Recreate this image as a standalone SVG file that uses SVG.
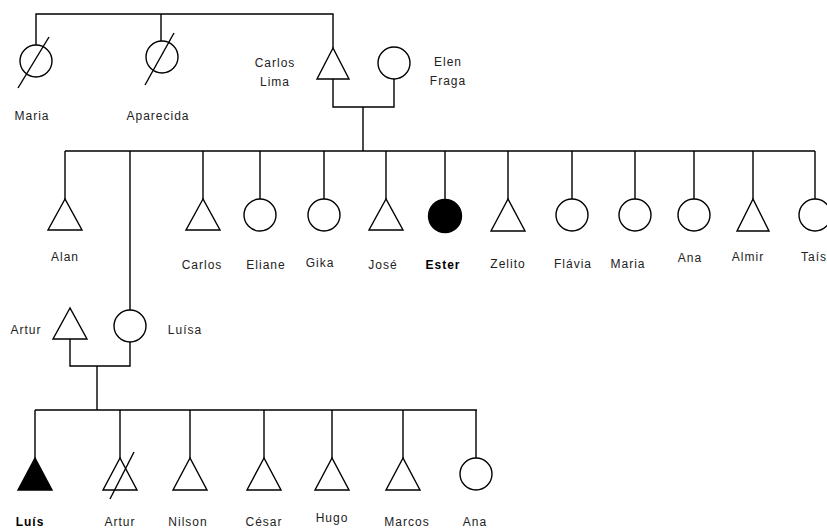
<svg xmlns="http://www.w3.org/2000/svg" width="827" height="530" viewBox="0 0 827 530">
<style>
.l{fill:none;stroke:#000;stroke-width:1.4}
.s{fill:#fff;stroke:#000;stroke-width:1.4}
.f{fill:#000;stroke:#000;stroke-width:1.4}
text{font-family:"Liberation Sans",Arial,sans-serif;font-size:12px;fill:#222;text-anchor:middle;letter-spacing:1px}
.b{font-weight:bold;fill:#000}
</style>
<rect width="827" height="530" fill="#fff"/>
<g id="connectors">
<path class="l" d="M36 45V14H333V48M161 41V14"/>
<path class="l" d="M333 79V107H394V79M363 107V151M65 151H815"/>
<path class="l" d="M65 151V199M203 151V199M260 151V199M324 151V199M386 151V199M445 151V199M508 151V199M572 151V199M635 151V199M694 151V199M753 151V199M815 151V199M130 151V310"/>
<path class="l" d="M70 339V366H130V342M97 366V410M35 410H477"/>
<path class="l" d="M35 410V458M120 410V458M190 410V458M264 410V458M332 410V458M403 410V458M476 410V458"/>
</g>
<g id="maria1"><circle class="s" cx="36" cy="61" r="16"/><line class="l" x1="18" y1="88" x2="49" y2="37"/><text x="32" y="120">Maria</text></g>
<g id="aparecida"><circle class="s" cx="162" cy="57" r="16"/><line class="l" x1="145" y1="85" x2="174" y2="33"/><text x="158" y="120">Aparecida</text></g>
<g id="carloslima"><polygon class="s" points="333,48 317,79 349,79"/><text x="275" y="67">Carlos</text><text x="275" y="86">Lima</text></g>
<g id="elen"><circle class="s" cx="394" cy="63" r="16"/><text x="448" y="66">Elen</text><text x="448" y="85">Fraga</text></g>
<g id="alan"><polygon class="s" points="65,199 48,230 82,230"/><text x="65" y="261">Alan</text></g>
<g id="carlos"><polygon class="s" points="203,199 186,230 220,230"/><text x="202" y="269">Carlos</text></g>
<g id="eliane"><circle class="s" cx="260" cy="215" r="16"/><text x="266" y="269">Eliane</text></g>
<g id="gika"><circle class="s" cx="324" cy="215" r="16"/><text x="320" y="267">Gika</text></g>
<g id="jose"><polygon class="s" points="386,199 369,230 403,230"/><text x="383" y="269">José</text></g>
<g id="ester"><circle class="f" cx="445" cy="216" r="16.5"/><text class="b" x="443" y="269">Ester</text></g>
<g id="zelito"><polygon class="s" points="508,199 491,231 525,231"/><text x="508" y="268">Zelito</text></g>
<g id="flavia"><circle class="s" cx="572" cy="215" r="16"/><text x="573" y="268">Flávia</text></g>
<g id="maria2"><circle class="s" cx="635" cy="215" r="16"/><text x="628" y="268">Maria</text></g>
<g id="ana1"><circle class="s" cx="694" cy="215" r="16"/><text x="690" y="262">Ana</text></g>
<g id="almir"><polygon class="s" points="753,199 737,231 769,231"/><text x="748" y="261">Almir</text></g>
<g id="tais"><circle class="s" cx="815" cy="215" r="16"/><text x="814" y="261">Taís</text></g>
<g id="artur1"><polygon class="s" points="70,308 53,339 87,339"/><text x="26" y="334">Artur</text></g>
<g id="luisa"><circle class="s" cx="130" cy="326" r="16"/><text x="185" y="334">Luísa</text></g>
<g id="luis"><polygon class="f" points="35,458 18,490 52,490"/><text class="b" x="30" y="526">Luís</text></g>
<g id="artur2"><polygon class="s" points="120,458 103,490 137,490"/><line class="l" x1="110" y1="499" x2="134" y2="452"/><text x="120" y="526">Artur</text></g>
<g id="nilson"><polygon class="s" points="190,458 173,490 207,490"/><text x="188" y="526">Nilson</text></g>
<g id="cesar"><polygon class="s" points="264,458 247,490 281,490"/><text x="264" y="526">César</text></g>
<g id="hugo"><polygon class="s" points="332,458 315,490 349,490"/><text x="332" y="522">Hugo</text></g>
<g id="marcos"><polygon class="s" points="403,458 386,490 420,490"/><text x="407" y="526">Marcos</text></g>
<g id="ana2"><circle class="s" cx="476" cy="474" r="16"/><text x="475" y="526">Ana</text></g>
</svg>
